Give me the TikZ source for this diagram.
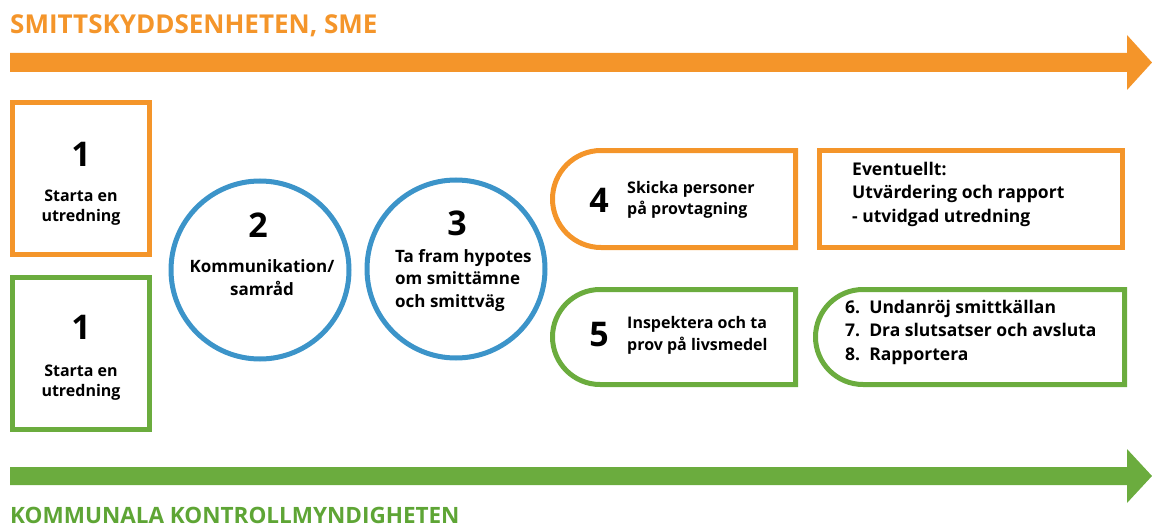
\documentclass[tikz,border=0pt]{standalone}
\usepackage{fontspec}
\setmainfont{Open Sans}
\usetikzlibrary{shapes.misc}
\definecolor{sOrange}{HTML}{F4952A}
\definecolor{sGreen}{HTML}{6BAC3E}
\definecolor{hGreen}{HTML}{5EA535}
\definecolor{sBlue}{HTML}{3C94C9}
\tikzset{
  box/.style={draw, line width=5pt, rectangle, inner sep=0pt},
  halfround/.style={draw, line width=5pt, rounded rectangle, rounded rectangle right arc=none, inner sep=0pt},
  ring/.style={draw=sBlue, line width=5pt, circle, inner sep=0pt, minimum size=178pt},
  bignum/.style={font=\fontsize{34}{34}\selectfont\bfseries, inner sep=0pt},
  lbl/.style={font=\fontsize{16}{20}\selectfont\bfseries, inner sep=0pt},
  clbl/.style={font=\fontsize{17}{22.5}\selectfont\bfseries, inner sep=0pt},
  rlbl/.style={font=\fontsize{17.5}{23.5}\selectfont\bfseries, inner sep=0pt},
}
\begin{document}
\begin{tikzpicture}[x=1pt,y=-1pt]
\useasboundingbox (0,0) rectangle (1152,527);
% headers
\node[font=\fontsize{26}{26}\selectfont\bfseries, inner sep=0pt, anchor=base west, text=sOrange] (hsme) at (10,34) {SMITTSKYDDSENHETEN, SME};
\node[font=\fontsize{22.5}{22.5}\selectfont\bfseries, inner sep=0pt, anchor=base west, text=hGreen] (hkom) at (10,523) {KOMMUNALA KONTROLLMYNDIGHETEN};
% arrows
\fill[sOrange] (10,53) -- (1127,53) -- (1127,35) -- (1152,62.5) -- (1127,90) -- (1127,72) -- (10,72) -- cycle;
\fill[sGreen] (10,467) -- (1127,467) -- (1127,449) -- (1152,476) -- (1127,503) -- (1127,485) -- (10,485) -- cycle;
% box 1 orange
\node[box, draw=sOrange, minimum width=137pt, minimum height=152pt] (b1o) at (81,178.5) {};
\node[bignum, anchor=base] (n1o) at (81,166) {1};
\node[lbl, anchor=base, align=center] (t1o) at (81,221) {Starta en\\utredning};
% box 1 green
\node[box, draw=sGreen, minimum width=137pt, minimum height=152pt] (b1g) at (81,353.5) {};
\node[bignum, anchor=base] (n1g) at (81,339) {1};
\node[lbl, anchor=base, align=center] (t1g) at (81,396) {Starta en\\utredning};
% circle 2
\node[ring] (c2) at (260,270) {};
\node[bignum, anchor=base] (n2) at (258,237) {2};
\node[clbl, anchor=base, align=center] (t2) at (262,295) {Kommunikation/\\samråd};
% circle 3
\node[ring] (c3) at (456,269) {};
\node[bignum, anchor=base] (n3) at (457,235) {3};
\node[clbl, anchor=base west, align=left] (t3) at (395,307) {Ta fram hypotes\\om smittämne\\och smittväg};
% box 4
\node[halfround, draw=sOrange, minimum width=243pt, minimum height=97pt] (b4) at (674,199) {};
\node[bignum, anchor=base] (n4) at (599,212) {4};
\node[lbl, anchor=base west, align=left, font=\fontsize{16}{21.5}\selectfont\bfseries] (t4) at (627,214.5) {Skicka personer\\på provtagning};
% box 5
\node[halfround, draw=sGreen, minimum width=243pt, minimum height=95pt] (b5) at (674,337) {};
\node[bignum, anchor=base] (n5) at (599,346) {5};
\node[lbl, anchor=base west, align=left, font=\fontsize{16}{21.5}\selectfont\bfseries] (t5) at (627,350) {Inspektera och ta\\prov på livsmedel};
% eventuellt box
\node[box, draw=sOrange, minimum width=303pt, minimum height=97pt] (be) at (971,199) {};
\node[rlbl, anchor=base west, align=left] (te) at (852,222) {Eventuellt:\\Utvärdering och rapport\\- utvidgad utredning};
% box 6-8
\node[halfround, draw=sGreen, minimum width=309pt, minimum height=95pt] (b6) at (970,337) {};
\node[rlbl, anchor=base west, align=left] (t6) at (845,360) {6.\ \ Undanröj smittkällan\\7.\ \ Dra slutsatser och avsluta\\8.\ \ Rapportera};
\end{tikzpicture}
\end{document}
